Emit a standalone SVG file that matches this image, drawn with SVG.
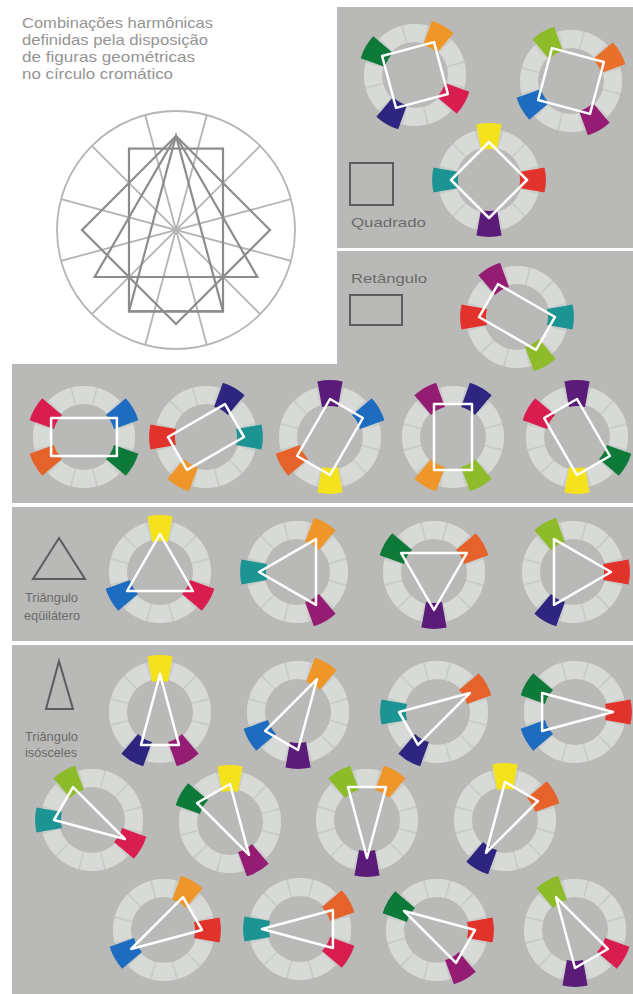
<svg xmlns="http://www.w3.org/2000/svg" xmlns:xlink="http://www.w3.org/1999/xlink" width="633" height="994" viewBox="0 0 633 994">
<style>
.pan{fill:#b9bab7}
.ringb{fill:none;stroke:#c9ccc9;stroke-width:18}
.ringc{fill:none;stroke:#d7dad7;stroke-width:18;stroke-dasharray:27.5 2.5;stroke-dashoffset:13.75}
.fig{fill:none;stroke:#ffffff;stroke-width:2.5;stroke-linejoin:round}
.ico{fill:none;stroke:#5c5c5c;stroke-width:2}
.lbl{font-family:"Liberation Sans",Arial,sans-serif;font-size:13px;fill:#6a6a6a}
.tt{font-family:"Liberation Sans",Arial,sans-serif;font-size:14.5px;fill:#949494}
.bc{fill:none;stroke:#b4b4b4;stroke-width:1.8}
.bs{fill:none;stroke:#8c8c8c;stroke-width:2.2;stroke-linejoin:miter}
</style>
<defs>
<g id="ring"><circle class="ringb" r="42"/><circle class="ringc" r="42" pathLength="360"/></g>
<path id="seg" d="M -8,-30 L -12.6,-55.5 A 57 57 0 0 1 12.6,-55.5 L 8,-30 A 31 31 0 0 0 -8,-30 Z"/>
</defs>
<rect width="633" height="994" fill="#ffffff"/>
<g id="panels">
<rect class="pan" x="337" y="7" width="296" height="241"/>
<path class="pan" d="M337,251 H633 V503 H12 V364 H337 Z"/>
<rect class="pan" x="12" y="507" width="621" height="134"/>
<rect class="pan" x="12" y="645" width="621" height="349"/>
</g>
<g id="title">
<text class="tt" x="22" y="28" textLength="191" lengthAdjust="spacingAndGlyphs">Combinações harmônicas</text>
<text class="tt" x="22" y="45" textLength="186" lengthAdjust="spacingAndGlyphs">definidas pela disposição</text>
<text class="tt" x="22" y="62" textLength="173" lengthAdjust="spacingAndGlyphs">de figuras geométricas</text>
<text class="tt" x="22" y="79" textLength="151" lengthAdjust="spacingAndGlyphs">no círculo cromático</text>
</g>
<g id="big-diagram">
<circle class="bc" cx="176" cy="230" r="119"/>
<line class="bc" x1="206.8" y1="115.1" x2="145.2" y2="344.9"/>
<line class="bc" x1="260.1" y1="145.9" x2="91.9" y2="314.1"/>
<line class="bc" x1="290.9" y1="199.2" x2="61.1" y2="260.8"/>
<line class="bc" x1="290.9" y1="260.8" x2="61.1" y2="199.2"/>
<line class="bc" x1="260.1" y1="314.1" x2="91.9" y2="145.9"/>
<line class="bc" x1="206.8" y1="344.9" x2="145.2" y2="115.1"/>
<rect class="bs" x="129" y="148.6" width="94" height="162.8"/>
<polygon class="bs" points="176,136 270,230 176,324 82,230"/>
<polygon class="bs" points="176,136 257.4,277 94.6,277"/>
<polygon class="bs" points="176,136 223,311.4 129,311.4"/>
</g>
<g id="quadrado">
<rect class="ico" x="350" y="163" width="43" height="42"/>
<text class="lbl" x="351" y="227" textLength="75" lengthAdjust="spacingAndGlyphs">Quadrado</text>
<g id="q1" transform="translate(415,75)"><use href="#ring"/>
<use href="#seg" fill="#0e7a3a" transform="rotate(300)"/><use href="#seg" fill="#ee962a" transform="rotate(30)"/><use href="#seg" fill="#d91e4f" transform="rotate(120)"/><use href="#seg" fill="#2d2580" transform="rotate(210)"/>
<polygon class="fig" points="-32.9,-19 19,-32.9 32.9,19 -19,32.9"/></g>
<g id="q2" transform="translate(571,81)"><use href="#ring"/>
<use href="#seg" fill="#8dbb2a" transform="rotate(330)"/><use href="#seg" fill="#e8702a" transform="rotate(60)"/><use href="#seg" fill="#951c73" transform="rotate(150)"/><use href="#seg" fill="#1e6cc0" transform="rotate(240)"/>
<polygon class="fig" points="-19,-32.9 32.9,-19 19,32.9 -32.9,19"/></g>
<g id="q3" transform="translate(489,180)"><use href="#ring"/>
<use href="#seg" fill="#f4e21c" transform="rotate(0)"/><use href="#seg" fill="#e2322c" transform="rotate(90)"/><use href="#seg" fill="#5b1b78" transform="rotate(180)"/><use href="#seg" fill="#1b9493" transform="rotate(270)"/>
<polygon class="fig" points="0,-38 38,0 0,38 -38,0"/></g>
</g>
<g id="retangulo">
<text class="lbl" x="351" y="283" textLength="76" lengthAdjust="spacingAndGlyphs">Retângulo</text>
<rect class="ico" x="350" y="295" width="52" height="30"/>
<g id="r0" transform="translate(517,317)"><use href="#ring"/>
<use href="#seg" fill="#951c73" transform="rotate(330)"/><use href="#seg" fill="#1b9493" transform="rotate(90)"/><use href="#seg" fill="#8dbb2a" transform="rotate(150)"/><use href="#seg" fill="#e2322c" transform="rotate(270)"/>
<polygon class="fig" points="-19,-32.9 38,0 19,32.9 -38,0"/></g>
<g id="r1" transform="translate(84,437)"><use href="#ring"/>
<use href="#seg" fill="#d91e4f" transform="rotate(300)"/><use href="#seg" fill="#1e6cc0" transform="rotate(60)"/><use href="#seg" fill="#0e7a3a" transform="rotate(120)"/><use href="#seg" fill="#e5622a" transform="rotate(240)"/>
<polygon class="fig" points="-32.9,-19 32.9,-19 32.9,19 -32.9,19"/></g>
<g id="r2" transform="translate(206,437)"><use href="#ring"/>
<use href="#seg" fill="#2d2580" transform="rotate(30)"/><use href="#seg" fill="#1b9493" transform="rotate(90)"/><use href="#seg" fill="#ee962a" transform="rotate(210)"/><use href="#seg" fill="#e2322c" transform="rotate(270)"/>
<polygon class="fig" points="19,-32.9 38,0 -19,32.9 -38,0"/></g>
<g id="r3" transform="translate(330,437)"><use href="#ring"/>
<use href="#seg" fill="#5b1b78" transform="rotate(0)"/><use href="#seg" fill="#1e6cc0" transform="rotate(60)"/><use href="#seg" fill="#f4e21c" transform="rotate(180)"/><use href="#seg" fill="#e5622a" transform="rotate(240)"/>
<polygon class="fig" points="0,-38 32.9,-19 0,38 -32.9,19"/></g>
<g id="r4" transform="translate(453,437)"><use href="#ring"/>
<use href="#seg" fill="#951c73" transform="rotate(330)"/><use href="#seg" fill="#2d2580" transform="rotate(30)"/><use href="#seg" fill="#8dbb2a" transform="rotate(150)"/><use href="#seg" fill="#ee962a" transform="rotate(210)"/>
<polygon class="fig" points="-19,-32.9 19,-32.9 19,32.9 -19,32.9"/></g>
<g id="r5" transform="translate(577,437)"><use href="#ring"/>
<use href="#seg" fill="#5b1b78" transform="rotate(0)"/><use href="#seg" fill="#d91e4f" transform="rotate(300)"/><use href="#seg" fill="#0e7a3a" transform="rotate(120)"/><use href="#seg" fill="#f4e21c" transform="rotate(180)"/>
<polygon class="fig" points="0,-38 32.9,19 0,38 -32.9,-19"/></g>
</g>
<g id="equilatero">
<polygon class="ico" points="59,538 85,579 33,579"/>
<text class="lbl" x="25" y="602" textLength="53" lengthAdjust="spacingAndGlyphs">Triângulo</text>
<text class="lbl" x="24" y="620" textLength="56" lengthAdjust="spacingAndGlyphs">eqüilátero</text>
<g id="e1" transform="translate(160,572)"><use href="#ring"/>
<use href="#seg" fill="#f4e21c" transform="rotate(0)"/><use href="#seg" fill="#d91e4f" transform="rotate(120)"/><use href="#seg" fill="#1e6cc0" transform="rotate(240)"/>
<polygon class="fig" points="0,-38 32.9,19 -32.9,19"/></g>
<g id="e2" transform="translate(297,572)"><use href="#ring"/>
<use href="#seg" fill="#ee962a" transform="rotate(30)"/><use href="#seg" fill="#951c73" transform="rotate(150)"/><use href="#seg" fill="#1b9493" transform="rotate(270)"/>
<polygon class="fig" points="19,-32.9 19,32.9 -38,0"/></g>
<g id="e3" transform="translate(434,572)"><use href="#ring"/>
<use href="#seg" fill="#e5622a" transform="rotate(60)"/><use href="#seg" fill="#5b1b78" transform="rotate(180)"/><use href="#seg" fill="#0e7a3a" transform="rotate(300)"/>
<polygon class="fig" points="32.9,-19 0,38 -32.9,-19"/></g>
<g id="e4" transform="translate(573,572)"><use href="#ring"/>
<use href="#seg" fill="#8dbb2a" transform="rotate(330)"/><use href="#seg" fill="#e2322c" transform="rotate(90)"/><use href="#seg" fill="#2d2580" transform="rotate(210)"/>
<polygon class="fig" points="-19,-32.9 38,0 -19,32.9"/></g>
</g>
<g id="isosceles">
<polygon class="ico" points="59,661 73,709 46,709"/>
<text class="lbl" x="25" y="741" textLength="53" lengthAdjust="spacingAndGlyphs">Triângulo</text>
<text class="lbl" x="25" y="757" textLength="52" lengthAdjust="spacingAndGlyphs">isósceles</text>
<g id="i1" transform="translate(160,712)"><use href="#ring"/>
<use href="#seg" fill="#f4e21c" transform="rotate(0)"/><use href="#seg" fill="#951c73" transform="rotate(150)"/><use href="#seg" fill="#2d2580" transform="rotate(210)"/>
<polygon class="fig" points="0,-38 19,32.9 -19,32.9"/></g>
<g id="i2" transform="translate(298,712)"><use href="#ring"/>
<use href="#seg" fill="#ee962a" transform="rotate(30)"/><use href="#seg" fill="#5b1b78" transform="rotate(180)"/><use href="#seg" fill="#1e6cc0" transform="rotate(240)"/>
<polygon class="fig" points="19,-32.9 0,38 -32.9,19"/></g>
<g id="i3" transform="translate(437,712)"><use href="#ring"/>
<use href="#seg" fill="#e5622a" transform="rotate(60)"/><use href="#seg" fill="#2d2580" transform="rotate(210)"/><use href="#seg" fill="#1b9493" transform="rotate(270)"/>
<polygon class="fig" points="32.9,-19 -19,32.9 -38,0"/></g>
<g id="i4" transform="translate(575,712)"><use href="#ring"/>
<use href="#seg" fill="#e2322c" transform="rotate(90)"/><use href="#seg" fill="#1e6cc0" transform="rotate(240)"/><use href="#seg" fill="#0e7a3a" transform="rotate(300)"/>
<polygon class="fig" points="38,0 -32.9,19 -32.9,-19"/></g>
<g id="i5" transform="translate(92,820)"><use href="#ring"/>
<use href="#seg" fill="#d91e4f" transform="rotate(120)"/><use href="#seg" fill="#1b9493" transform="rotate(270)"/><use href="#seg" fill="#8dbb2a" transform="rotate(330)"/>
<polygon class="fig" points="32.9,19 -38,0 -19,-32.9"/></g>
<g id="i6" transform="translate(230,822)"><use href="#ring"/>
<use href="#seg" fill="#951c73" transform="rotate(150)"/><use href="#seg" fill="#0e7a3a" transform="rotate(300)"/><use href="#seg" fill="#f4e21c" transform="rotate(0)"/>
<polygon class="fig" points="19,32.9 -32.9,-19 0,-38"/></g>
<g id="i7" transform="translate(367,820)"><use href="#ring"/>
<use href="#seg" fill="#5b1b78" transform="rotate(180)"/><use href="#seg" fill="#8dbb2a" transform="rotate(330)"/><use href="#seg" fill="#ee962a" transform="rotate(30)"/>
<polygon class="fig" points="0,38 -19,-32.9 19,-32.9"/></g>
<g id="i8" transform="translate(505,820)"><use href="#ring"/>
<use href="#seg" fill="#2d2580" transform="rotate(210)"/><use href="#seg" fill="#f4e21c" transform="rotate(0)"/><use href="#seg" fill="#e5622a" transform="rotate(60)"/>
<polygon class="fig" points="-19,32.9 0,-38 32.9,-19"/></g>
<g id="i9" transform="translate(164,930)"><use href="#ring"/>
<use href="#seg" fill="#1e6cc0" transform="rotate(240)"/><use href="#seg" fill="#ee962a" transform="rotate(30)"/><use href="#seg" fill="#e2322c" transform="rotate(90)"/>
<polygon class="fig" points="-32.9,19 19,-32.9 38,0"/></g>
<g id="i10" transform="translate(300,929)"><use href="#ring"/>
<use href="#seg" fill="#1b9493" transform="rotate(270)"/><use href="#seg" fill="#e5622a" transform="rotate(60)"/><use href="#seg" fill="#d91e4f" transform="rotate(120)"/>
<polygon class="fig" points="-38,0 32.9,-19 32.9,19"/></g>
<g id="i11" transform="translate(437,930)"><use href="#ring"/>
<use href="#seg" fill="#0e7a3a" transform="rotate(300)"/><use href="#seg" fill="#e2322c" transform="rotate(90)"/><use href="#seg" fill="#951c73" transform="rotate(150)"/>
<polygon class="fig" points="-32.9,-19 38,0 19,32.9"/></g>
<g id="i12" transform="translate(575,930)"><use href="#ring"/>
<use href="#seg" fill="#8dbb2a" transform="rotate(330)"/><use href="#seg" fill="#d91e4f" transform="rotate(120)"/><use href="#seg" fill="#5b1b78" transform="rotate(180)"/>
<polygon class="fig" points="-19,-32.9 32.9,19 0,38"/></g>
</g>
</svg>
